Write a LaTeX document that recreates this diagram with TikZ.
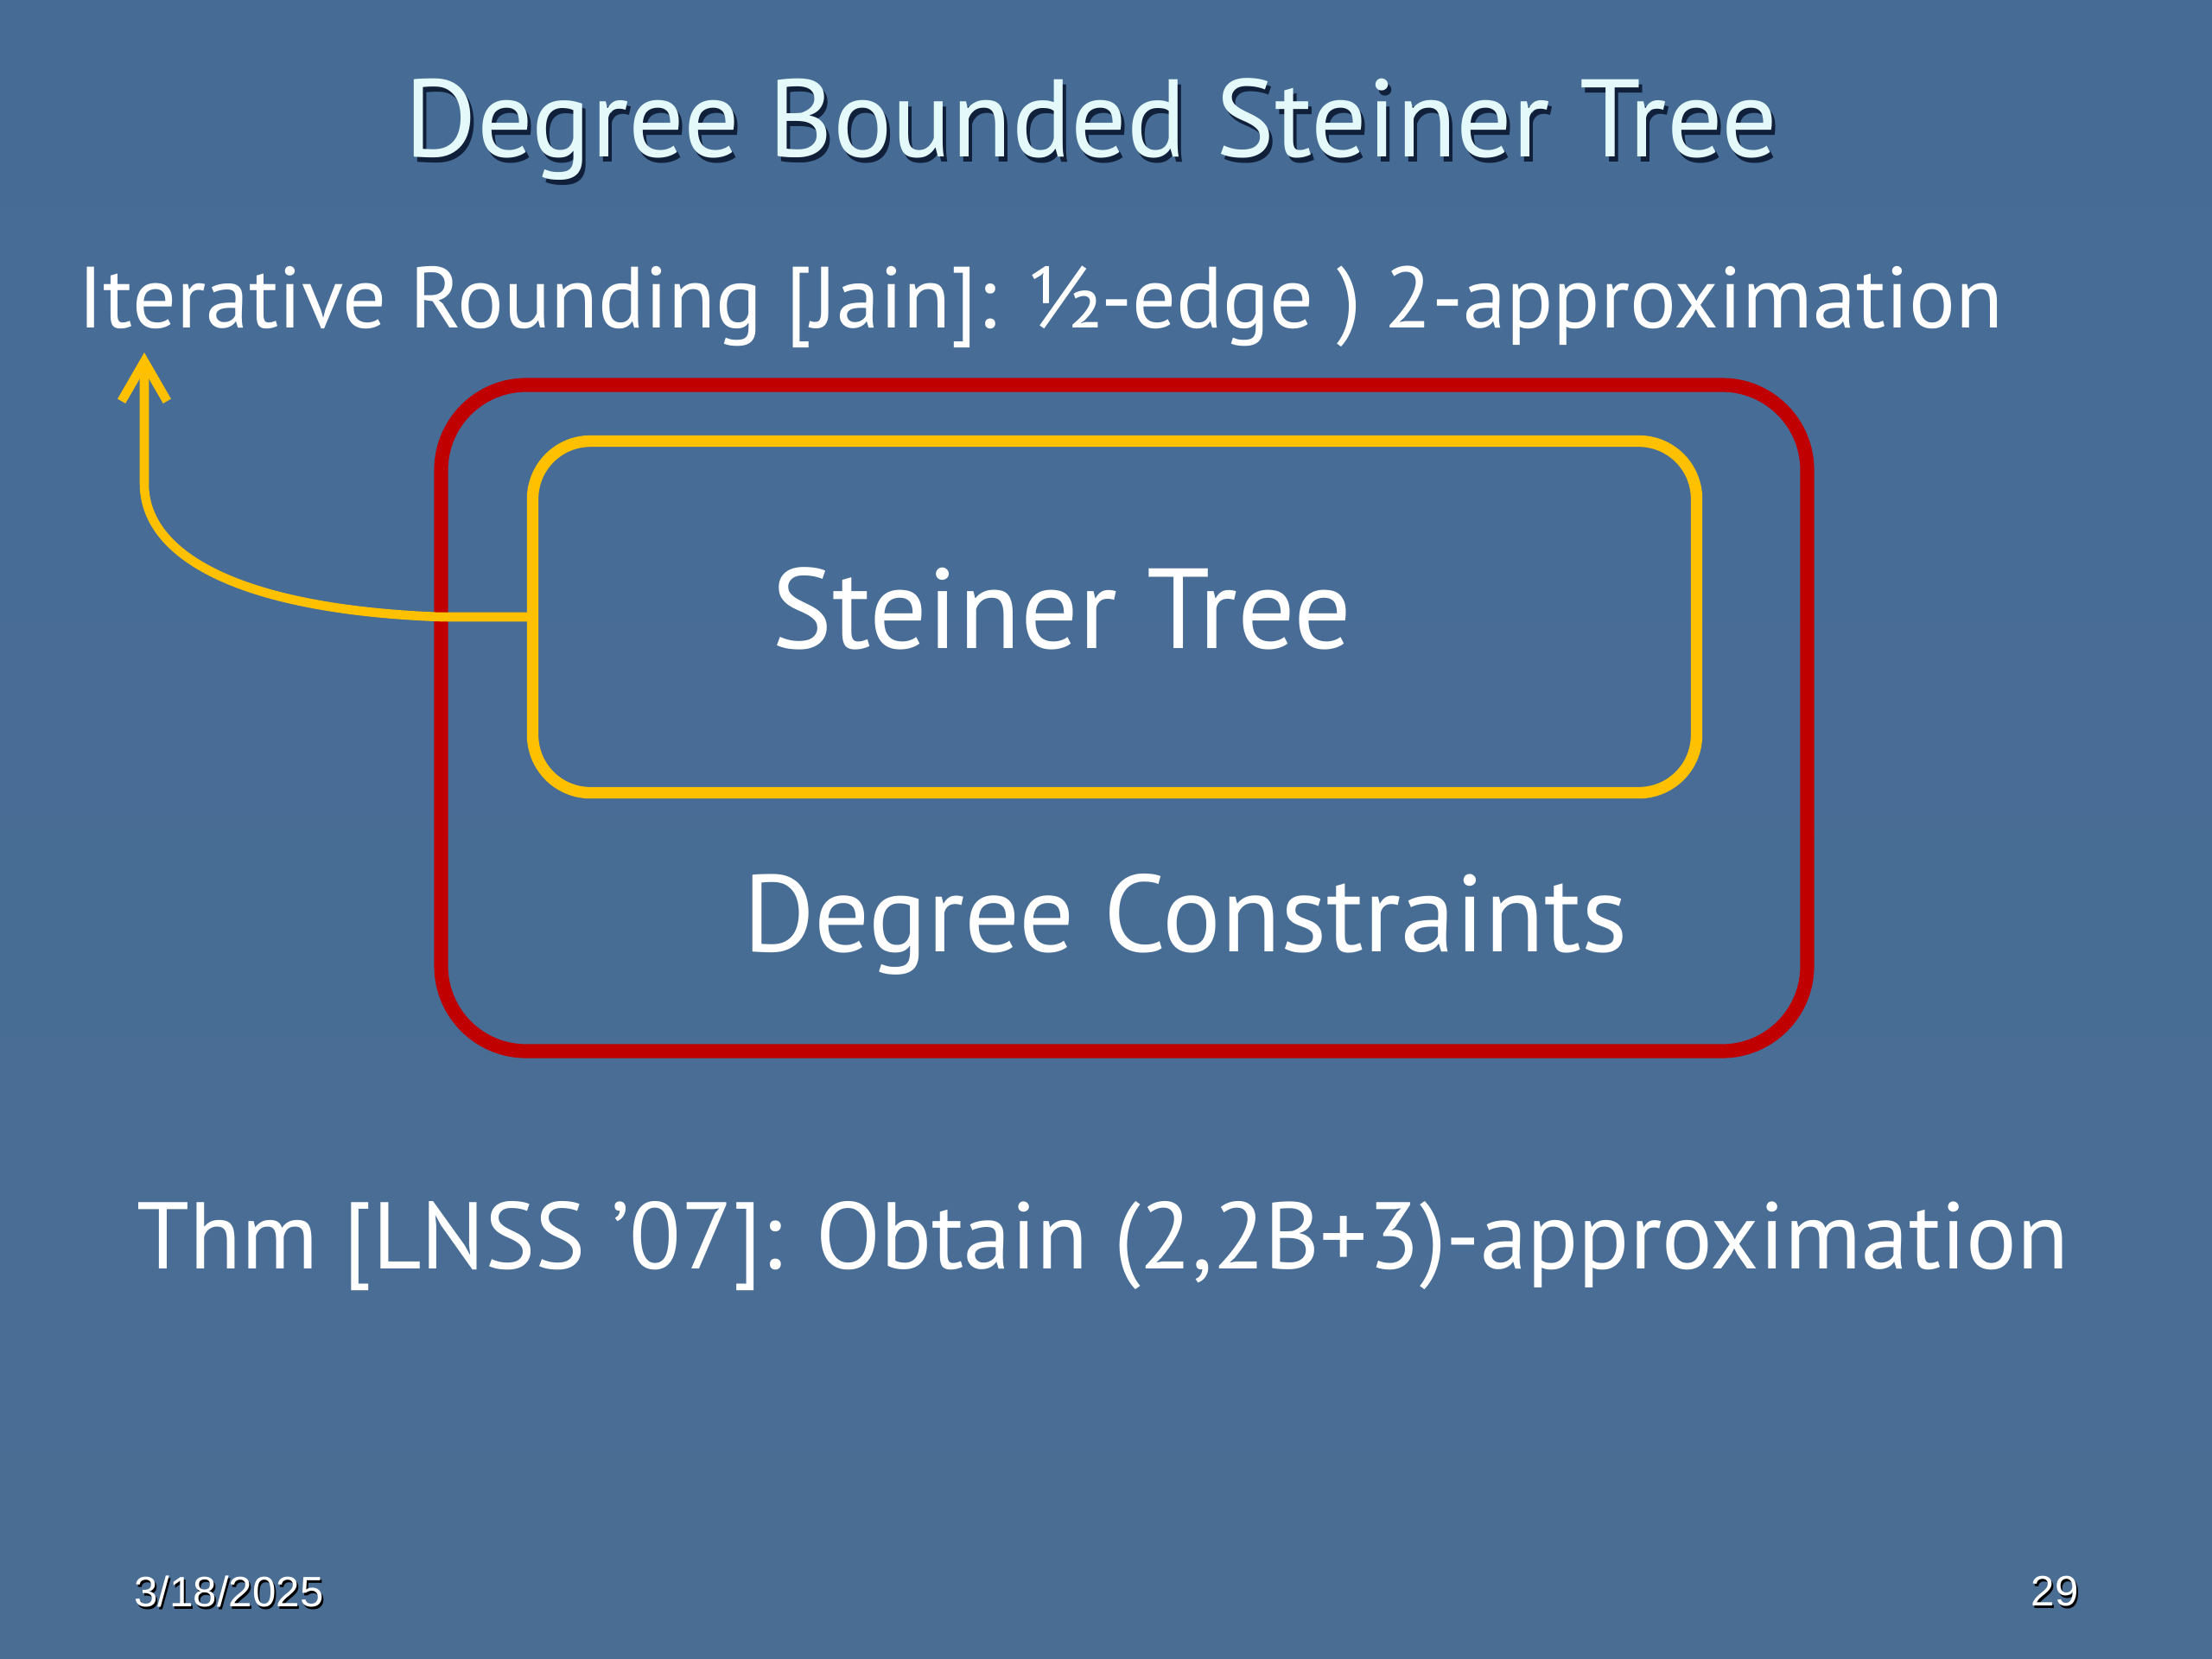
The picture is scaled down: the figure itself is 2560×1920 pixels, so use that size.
\documentclass[tikz,border=0pt]{standalone}
\usepackage{fontspec}
\setmainfont{PT Sans}
\newfontfamily\footfont{Liberation Sans}
\usepackage{xcolor}
\usepackage{tikz}
\usetikzlibrary{arrows.meta, positioning}
\definecolor{mybgtop}{HTML}{466C95}
\definecolor{mybgmid}{HTML}{5A7FA8}
\definecolor{mybgbot}{HTML}{4A6D94}
\definecolor{mytitle}{HTML}{E4FAFA}
\definecolor{myshadow}{HTML}{10203A}
\definecolor{myred}{HTML}{C00000}
\definecolor{myyellow}{HTML}{FFC000}
\tikzset{
titletext/.style={
text=mytitle,
font=\fontsize{36.3}{43}\selectfont,
inner sep=0pt
},
shadowtext/.style={
text=myshadow,
font=\fontsize{36.3}{43}\selectfont,
inner sep=0pt
},
bodytext/.style={
text=white,
font=\fontsize{28.6}{34}\selectfont,
inner sep=0pt
},
boxtext/.style={
text=white,
font=\fontsize{37.5}{44}\selectfont,
inner sep=0pt
},
foottext/.style={
text=white,
font=\footfont\fontsize{14}{17}\selectfont,
inner sep=0pt
},
outerbox/.style={
draw=myred,
line width=4.6pt,
rounded corners=28pt
},
innerbox/.style={
draw=myyellow,
line width=3.8pt,
rounded corners=19pt
},
arrow/.style={
-{Straight Barb[length=13pt,width=15pt,line width=3pt]},
line width=3pt,
draw=myyellow
}
}

\begin{document}
\begin{tikzpicture}[x=0.1mm, y=-0.1mm]
\useasboundingbox (0,0) rectangle (2560,1920);
\shade[top color=mybgtop, middle color=mybgmid, bottom color=mybgbot]
  (0,0) rectangle (2560,1920);

% title with its shadow
\node[shadowtext] at (1267,156) {Degree Bounded Steiner Tree};
\node[titletext] (title) at (1263,150) {Degree Bounded Steiner Tree};

\node[bodytext, anchor=base west] (jain) at (90,379)
  {Iterative Rounding [Jain]: ½-edge ) 2-approximation};

% nested constraint boxes
\node[outerbox, minimum width=1581*0.1mm, minimum height=771*0.1mm]
  (degbox) at (1301,831) {};
\node[innerbox, minimum width=1347*0.1mm, minimum height=407*0.1mm]
  (stbox) at (1290,714) {};
\node[boxtext] (st) at (1229,704) {Steiner Tree};
\node[boxtext, font=\fontsize{36}{43}\selectfont] (dc) at (1372,1070)
  {Degree Constraints};

\coordinate (tip) at (167,408);
\draw[arrow] (stbox.west) -- (510,714)
  .. controls (270,705) and (167,640) .. (167,560) -- (tip);

\node[bodytext, font=\fontsize{31.2}{37}\selectfont, anchor=base west]
  (thm) at (158,1468) {Thm [LNSS '07]: Obtain (2,2B+3)-approximation};

\node[foottext, text=black] at (267,1845) {3/18/2025};
\node[foottext] (date) at (265,1842) {3/18/2025};
\node[foottext, text=black] at (2380,1845) {29};
\node[foottext] (page) at (2378,1842) {29};

\end{tikzpicture}
\end{document}
